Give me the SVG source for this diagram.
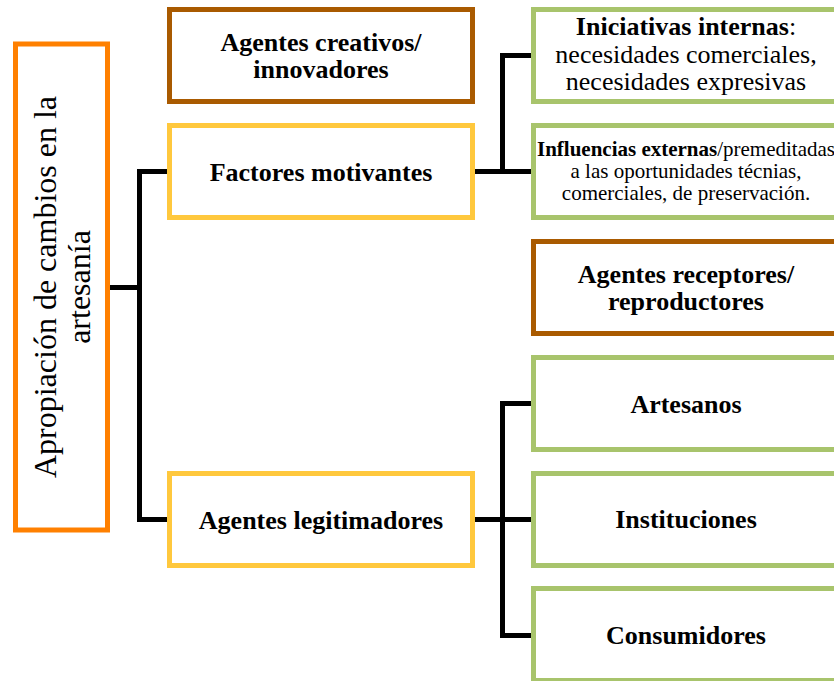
<svg xmlns="http://www.w3.org/2000/svg" width="834" height="681" viewBox="0 0 834 681">
<style>
  text { font-family: 'Liberation Serif', 'Times New Roman', serif; fill: #000; text-anchor: middle; }
  .box { fill: #fff; stroke-width: 5; }
  .orange { stroke: #FF8000; }
  .brown { stroke: #A95A00; }
  .yellow { stroke: #FFC83D; }
  .green { stroke: #A8C46C; }
  .b26 { font-size: 26px; font-weight: bold; }
  .r26 { font-size: 26px; }
  .r21 { font-size: 21px; }
  .r32 { font-size: 32px; }
  .conn { fill: none; stroke: #000; stroke-width: 5; stroke-linejoin: miter; }
</style>
<rect width="834" height="681" fill="#fff"/>
<g id="connectors">
  <path class="conn" d="M110,287.5 H139.5 M167,171.5 H139.5 V519.5 H167"/>
  <path class="conn" d="M475,171.5 H531 M531,55.5 H502.5 V171.5"/>
  <path class="conn" d="M475,519.5 H531 M531,403.5 H502.5 V635.5 H531"/>
</g>
<g id="n-apropiacion">
  <rect class="box orange" x="15.5" y="44" width="92" height="486"/>
  <text class="r32" transform="translate(0,287) rotate(-90)"><tspan x="0" y="56">Apropiación de cambios en la</tspan><tspan x="0" y="89.5">artesanía</tspan></text>
</g>
<g id="n-creativos">
  <rect class="box brown" x="169.5" y="9.5" width="303" height="92"/>
  <text class="b26"><tspan x="321" y="51.2">Agentes creativos/</tspan><tspan x="321" y="78">innovadores</tspan></text>
</g>
<g id="n-factores">
  <rect class="box yellow" x="169.5" y="125.5" width="303" height="92"/>
  <text class="b26" x="321" y="181">Factores motivantes</text>
</g>
<g id="n-legitimadores">
  <rect class="box yellow" x="169.5" y="473.5" width="303" height="92"/>
  <text class="b26" x="321" y="528.5">Agentes legitimadores</text>
</g>
<g id="n-internas">
  <rect class="box green" x="533.5" y="9.5" width="303" height="92"/>
  <text class="r26"><tspan x="686" y="35"><tspan font-weight="bold">Iniciativas internas</tspan>:</tspan><tspan x="686" y="62.5">necesidades comerciales,</tspan><tspan x="686" y="90">necesidades expresivas</tspan></text>
</g>
<g id="n-externas">
  <rect class="box green" x="533.5" y="125.5" width="303" height="92"/>
  <text class="r21"><tspan x="686" y="155.5"><tspan font-weight="bold">Influencias externas</tspan>/premeditadas</tspan><tspan x="686" y="177.5">a las oportunidades técnias,</tspan><tspan x="686" y="200">comerciales, de preservación.</tspan></text>
</g>
<g id="n-receptores">
  <rect class="box brown" x="533.5" y="241.5" width="303" height="92"/>
  <text class="b26"><tspan x="686" y="282.7">Agentes receptores/</tspan><tspan x="686" y="309.5">reproductores</tspan></text>
</g>
<g id="n-artesanos">
  <rect class="box green" x="533.5" y="357.5" width="303" height="92"/>
  <text class="b26" x="686" y="412.5">Artesanos</text>
</g>
<g id="n-instituciones">
  <rect class="box green" x="533.5" y="473.5" width="303" height="92"/>
  <text class="b26" x="686" y="528">Instituciones</text>
</g>
<g id="n-consumidores">
  <rect class="box green" x="533.5" y="588.5" width="303" height="92"/>
  <text class="b26" x="686" y="644">Consumidores</text>
</g>
</svg>
